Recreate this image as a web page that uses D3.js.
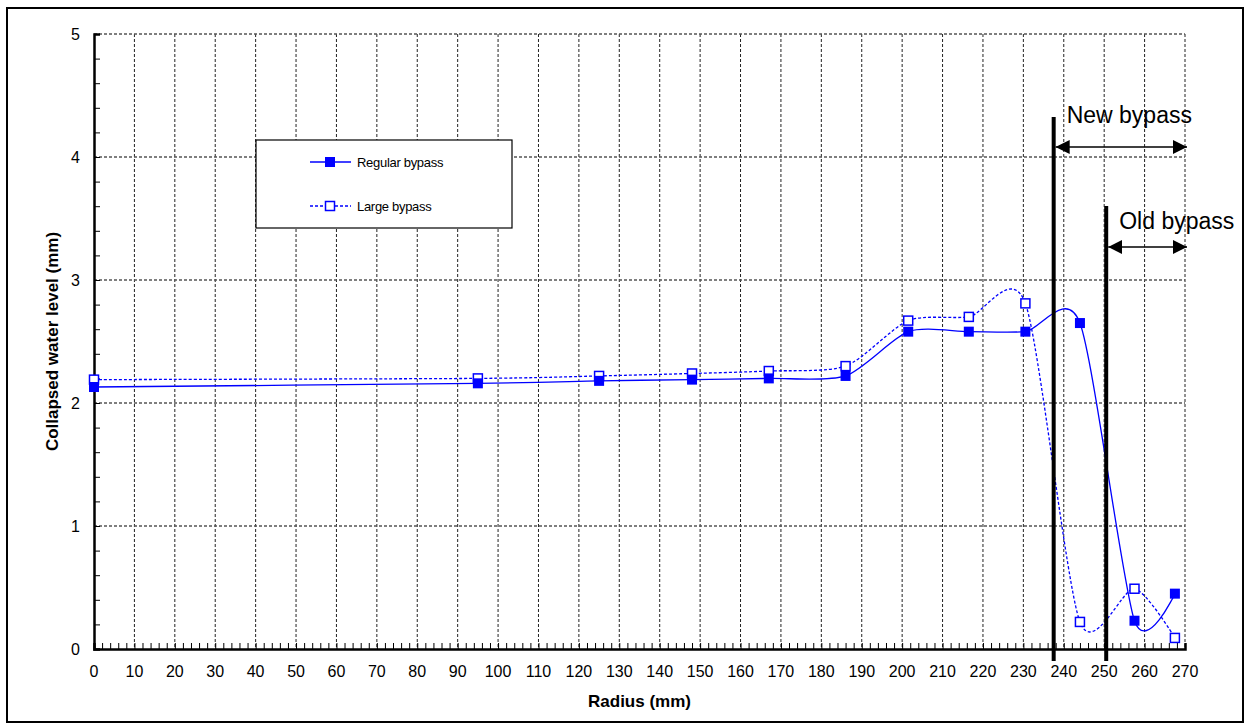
<!DOCTYPE html>
<html>
<head>
<meta charset="utf-8">
<script src="https://cdn.jsdelivr.net/npm/d3@7"></script>
<style>
  body { margin: 0; background: #fff; }
  text { font-family: "Liberation Sans", Arial, sans-serif; }
</style>
</head>
<body>
<div id="chart"></div>
<script>
// data
var radius     = [0, 95, 125, 148, 167, 186, 201.5, 216.5, 230.5, 244, 257.5, 267.5];
var regular    = [2.13, 2.16, 2.18, 2.19, 2.20, 2.22, 2.58, 2.58, 2.58, 2.65, 0.23, 0.45];
var large      = [2.19, 2.20, 2.22, 2.24, 2.26, 2.30, 2.67, 2.70, 2.81, 0.22, 0.49, 0.09];
var xTicks     = d3.range(0, 271, 10);
var yTicks     = [0, 1, 2, 3, 4, 5];
var seriesNames = ["Regular bypass", "Large bypass"];
var bypassLines = [237.5, 250.5];   // radius of the thick markers
var bypassNames = ["New bypass", "Old bypass"];

var W = 1245, H = 724;
var margin = {top: 34, right: 60, bottom: 75, left: 94};

var svg = d3.select("#chart").append("svg")
    .attr("width", W)
    .attr("height", H);

// outer frame
svg.append("rect")
    .attr("x", 7).attr("y", 8)
    .attr("width", 1236).attr("height", 714)
    .attr("fill", "none")
    .attr("stroke", "#000")
    .attr("stroke-width", 2);

var x = d3.scaleLinear().domain([0, 270]).range([margin.left, 1185]);
var y = d3.scaleLinear().domain([0, 5]).range([649, margin.top]);

var g = svg.append("g");

// grid
g.selectAll(".vgrid")
    .data(xTicks.filter(function(d) { return d > 0; }))
    .enter().append("line")
    .attr("x1", function(d) { return x(d); })
    .attr("x2", function(d) { return x(d); })
    .attr("y1", y(5)).attr("y2", y(0))
    .attr("stroke", "#222")
    .attr("stroke-width", 1)
    .attr("stroke-dasharray", "3,2");

g.selectAll(".hgrid")
    .data(yTicks.filter(function(d) { return d > 0; }))
    .enter().append("line")
    .attr("x1", x(0)).attr("x2", x(270))
    .attr("y1", function(d) { return y(d); })
    .attr("y2", function(d) { return y(d); })
    .attr("stroke", "#555")
    .attr("stroke-width", 1.5)
    .attr("stroke-dasharray", "3,2");

// axes
var xAxis = d3.axisBottom(x).tickValues(d3.range(0, 271, 2)).tickSize(-6).tickFormat("");
var yAxis = d3.axisLeft(y).tickValues(d3.range(0, 5.01, 0.2)).tickSize(-6).tickFormat("");

var xa = g.append("g").attr("transform", "translate(0," + y(0) + ")").call(xAxis);
var ya = g.append("g").attr("transform", "translate(" + x(0) + ",0)").call(yAxis);
[xa, ya].forEach(function(a) {
    a.select(".domain").attr("stroke", "#000").attr("stroke-width", 2.5);
    a.selectAll(".tick line").attr("stroke", "#000").attr("stroke-width", 1);
});

g.selectAll(".xlab")
    .data(xTicks)
    .enter().append("text")
    .attr("x", function(d) { return x(d); })
    .attr("y", 677)
    .attr("text-anchor", "middle")
    .attr("font-size", 16)
    .text(function(d) { return d; });

g.selectAll(".ylab")
    .data(yTicks)
    .enter().append("text")
    .attr("x", 80)
    .attr("y", function(d) { return y(d) + 6; })
    .attr("text-anchor", "end")
    .attr("font-size", 16)
    .text(function(d) { return d; });

svg.append("text")
    .attr("x", x(135) - 0).attr("y", 707)
    .attr("text-anchor", "middle")
    .attr("font-size", 17)
    .attr("font-weight", "bold")
    .text("Radius (mm)");

svg.append("text")
    .attr("transform", "translate(58," + y(2.5) + ")rotate(-90)")
    .attr("text-anchor", "middle")
    .attr("font-size", 17)
    .attr("font-weight", "bold")
    .text("Collapsed water level (mm)");

// series
var line = d3.line()
    .curve(d3.curveCardinal.tension(0.25))
    .x(function(d) { return x(d[0]); })
    .y(function(d) { return y(d[1]); });

var regData = radius.map(function(r, i) { return [r, regular[i]]; });
var lrgData = radius.map(function(r, i) { return [r, large[i]]; });

g.append("path")
    .datum(lrgData)
    .attr("fill", "none")
    .attr("stroke", "#0000ff")
    .attr("stroke-width", 1.3)
    .attr("stroke-dasharray", "3,2")
    .attr("d", line);

g.append("path")
    .datum(regData)
    .attr("fill", "none")
    .attr("stroke", "#0000ff")
    .attr("stroke-width", 1.3)
    .attr("d", line);

var ms = 9;
g.selectAll(".mL")
    .data(lrgData)
    .enter().append("rect")
    .attr("x", function(d) { return x(d[0]) - ms / 2; })
    .attr("y", function(d) { return y(d[1]) - ms / 2; })
    .attr("width", ms).attr("height", ms)
    .attr("fill", "#fff")
    .attr("stroke", "#0000ff")
    .attr("stroke-width", 1.5);

g.selectAll(".mR")
    .data(regData)
    .enter().append("rect")
    .attr("x", function(d) { return x(d[0]) - ms / 2 - 0.5; })
    .attr("y", function(d) { return y(d[1]) - ms / 2 - 0.5; })
    .attr("width", ms + 1).attr("height", ms + 1)
    .attr("fill", "#0000ff");

// bypass markers
var defs = svg.append("defs");
defs.append("marker")
    .attr("id", "ah")
    .attr("viewBox", "0 0 14 14")
    .attr("refX", 14).attr("refY", 7)
    .attr("markerWidth", 14).attr("markerHeight", 14)
    .attr("markerUnits", "userSpaceOnUse")
    .attr("orient", "auto-start-reverse")
    .append("path")
    .attr("d", "M0,0L14,7L0,14Z")
    .attr("fill", "#000");

var tops = [117, 206];
var arrowY = [147, 247];
var labelY = [123, 229];

bypassLines.forEach(function(r, i) {
    svg.append("line")
        .attr("x1", x(r)).attr("x2", x(r))
        .attr("y1", tops[i]).attr("y2", 661)
        .attr("stroke", "#000")
        .attr("stroke-width", 4);
    svg.append("line")
        .attr("x1", x(r) + 2).attr("x2", x(270) + 2)
        .attr("y1", arrowY[i]).attr("y2", arrowY[i])
        .attr("stroke", "#000")
        .attr("stroke-width", 1.5)
        .attr("marker-start", "url(#ah)")
        .attr("marker-end", "url(#ah)");
    svg.append("text")
        .attr("x", x(r) + 13)
        .attr("y", labelY[i])
        .attr("font-size", 23)
        .text(bypassNames[i]);
});

// legend
var lg = svg.append("g").attr("transform", "translate(256,140)");
lg.append("rect")
    .attr("width", 256).attr("height", 88)
    .attr("fill", "#fff")
    .attr("stroke", "#000")
    .attr("stroke-width", 1.2);

seriesNames.forEach(function(name, i) {
    var ly = 22 + i * 44;
    lg.append("line")
        .attr("x1", 54).attr("x2", 95)
        .attr("y1", ly).attr("y2", ly)
        .attr("stroke", "#0000ff")
        .attr("stroke-width", 1.3)
        .attr("stroke-dasharray", i === 1 ? "3,2" : null);
    lg.append("rect")
        .attr("x", 74 - ms / 2).attr("y", ly - ms / 2)
        .attr("width", ms).attr("height", ms)
        .attr("fill", i === 0 ? "#0000ff" : "#fff")
        .attr("stroke", "#0000ff")
        .attr("stroke-width", i === 0 ? 1 : 1.5);
    lg.append("text")
        .attr("x", 101).attr("y", ly + 5)
        .attr("font-size", 13)
        .attr("letter-spacing", -0.3)
        .text(name);
});
</script>
</body>
</html>
